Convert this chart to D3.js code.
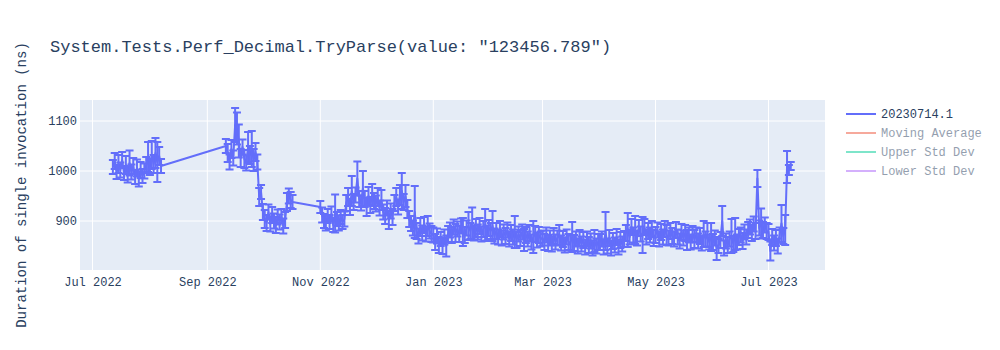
<!DOCTYPE html>
<html>
<head>
<meta charset="utf-8">
<script src="https://cdn.jsdelivr.net/npm/d3@7"></script>
<style>
  body { margin: 0; background: #fff; }
  text { font-family: "Liberation Mono", "Courier New", monospace; fill: #2a3f5f; }
</style>
</head>
<body>
<div id="chart"></div>
<script>
// Valores (ns), un punto por dia a partir de la fecha de inicio de cada bloque
const julAug22 = [1008,1020,998,1014,1002,1022,996,1012,992,1016,998,1010,988,1006,984,1002,990,1000,1012,1028,1008,1032,1014,1036,1018,1030,1010];
const julAug22Err = [14,16,14,18,15,16,14,18,15,25,15,16,14,17,15,16,14,15,16,30,16,28,18,30,40,18,14];
const sep22 = [1050,1036,1018,1044,1026,1092,1085,1060,1026,1048,1024,1016,1048,1032,1044,1022,1038,1018];
const sep22Err = [14,18,15,18,15,34,32,33,18,15,18,15,30,18,36,22,18,15];
const oct22 = [948,958,918,904,896,918,894,912,900,892,908,898,910,890,902,938,950,942,938];
const oct22Err = [18,14,16,18,16,15,15,16,15,16,15,15,14,15,16,18,15,16,14];
const nov22 = [928,912,900,896,910,898,914,892,915,904,896,908,898,904,936,948,928,960,938,952,985,944,936,965,944,928,950,932,952,940];
const nov22Err = [12,15,14,15,14,14,15,14,38,14,15,14,14,15,16,18,16,30,16,15,34,16,15,35,16,18,18,16,22,16];
const dec22 = [935,948,926,942,918,910,926,902,920,908,936,948,928,952,960,938,950,924,904,895,886,918,880,870,888,876,892,874,890,880,874];
const dec22Err = [16,18,15,20,15,16,15,18,15,16,16,18,15,20,36,16,22,18,16,15,15,52,16,15,18,15,16,15,20,15,16];
const jan23 = [872,858,870,852,864,850,868,850,874,882,872,888,876,884,874,890,878,872,886,890,880,895,876,886,878,890,874,884,892,876,886];
const jan23Err = [15,16,15,16,14,16,15,21,16,15,16,15,18,15,16,15,28,16,15,28,16,32,15,18,15,16,15,16,32,15,16];
const feb23 = [880,890,870,880,868,884,866,878,870,882,864,876,868,878,862,874,866,878,862,872,864,876,858,868,874,862,872,864];
const feb23Err = [16,30,15,16,15,16,15,15,16,15,15,16,15,32,16,15,16,15,22,16,15,16,15,32,16,15,16,15];
const mar23 = [866,858,872,856,866,854,870,858,866,872,856,864,852,868,858,856,868,856,864,850,866,854,862,848,864,852,860,846,860,850,858];
const mar23Err = [15,16,15,16,15,15,16,15,15,20,15,16,15,15,16,15,30,16,15,15,16,15,16,15,15,16,15,15,22,15,16];
const apr23 = [858,864,848,880,850,866,846,860,852,868,848,862,854,864,876,882,868,888,872,882,866,886,874,872,888,868,880,872,884,866];
const apr23Err = [16,15,15,38,15,16,15,16,15,16,15,16,15,16,16,34,15,16,15,28,15,16,15,36,16,15,16,15,16,16];
const may23 = [872,882,864,878,868,884,872,866,880,870,864,882,868,860,878,866,876,862,872,858,874,864,872,860,870,856,874,864,872,858,868];
const may23Err = [16,15,15,16,15,16,20,15,16,16,15,16,15,15,16,15,16,20,15,15,16,18,15,15,16,15,26,15,24,15,28];
const jun23 = [858,866,845,850,862,900,846,860,852,864,870,854,874,858,868,872,860,878,868,882,888,876,894,880,985,886,895,882,892,880];
const jun23Err = [16,15,23,14,16,30,15,15,16,15,34,16,32,15,16,15,16,15,15,16,15,16,15,16,17,15,30,16,15,16];
const jul23 = [878,840,868,856,866,850,872,895,870,882,1008,1002,1010];
const jul23Err = [16,19,16,15,16,15,15,37,16,30,32,10,8];

const blockStarts = ["2022-07-12","2022-09-11","2022-09-29","2022-11-01","2022-12-01","2023-01-01",
                     "2023-02-01","2023-03-01","2023-04-01","2023-05-01","2023-06-01","2023-07-01"];
const blockValues = [julAug22, sep22, oct22, nov22, dec22, jan23, feb23, mar23, apr23, may23, jun23, jul23];
const blockErrs = [julAug22Err, sep22Err, oct22Err, nov22Err, dec22Err, jan23Err, feb23Err, mar23Err, apr23Err, may23Err, jun23Err, jul23Err];

const xTicks = ["2022-07-01","2022-09-01","2022-11-01","2023-01-01","2023-03-01","2023-05-01","2023-07-01"];
const yTicks = [900, 1000, 1100];
const legendNames = ["20230714.1", "Moving Average", "Upper Std Dev", "Lower Std Dev"];
const legendColors = ["#636efa", "#EF553B", "#00cc96", "#ab63fa"];

const titulo = 'System.Tests.Perf_Decimal.TryParse(value: "123456.789")';
const tituloY = "Duration of single invocation (ns)";

// Tabla de puntos
const parseDia = d3.utcParse("%Y-%m-%d");
const puntos = [];
blockStarts.forEach(function (inicio, b) {
    const t0 = parseDia(inicio);
    blockValues[b].forEach(function (v, i) {
        puntos.push({ fecha: d3.utcDay.offset(t0, i), valor: v, err: blockErrs[b][i] });
    });
});

const ancho = 1000, altura = 350;
const margen = { arriba: 100, derecha: 175, abajo: 80, izquierda: 80 };
const anchoPlot = ancho - margen.izquierda - margen.derecha;
const altoPlot = altura - margen.arriba - margen.abajo;

const x = d3.scaleUtc()
    .domain([new Date(Date.UTC(2022, 5, 24, 6)), new Date(Date.UTC(2023, 6, 31, 12))])
    .range([0, anchoPlot]);
const y = d3.scaleLinear()
    .domain([802, 1142])
    .range([altoPlot, 0]);

const svg = d3.select("#chart").append("svg")
    .attr("width", ancho)
    .attr("height", altura);

// Titulo
svg.append("text")
    .attr("x", 50)
    .attr("y", 52)
    .style("font-size", "17px")
    .text(titulo);

const g = svg.append("g")
    .attr("transform", "translate(" + margen.izquierda + "," + margen.arriba + ")");

g.append("rect")
    .attr("width", anchoPlot)
    .attr("height", altoPlot)
    .attr("fill", "#e5ecf6");

// Rejilla
g.selectAll(".gridx")
    .data(xTicks.map(parseDia))
    .enter().append("line")
    .attr("x1", d => x(d)).attr("x2", d => x(d))
    .attr("y1", 0).attr("y2", altoPlot)
    .attr("stroke", "#fff").attr("stroke-width", 1);

g.selectAll(".gridy")
    .data(yTicks)
    .enter().append("line")
    .attr("x1", 0).attr("x2", anchoPlot)
    .attr("y1", d => y(d)).attr("y2", d => y(d))
    .attr("stroke", "#fff").attr("stroke-width", 1);

// Ejes
const ejeX = g.append("g")
    .attr("transform", "translate(0," + altoPlot + ")")
    .call(d3.axisBottom(x).tickValues(xTicks.map(parseDia)).tickFormat(d3.utcFormat("%b %Y")).tickSize(0).tickPadding(7));
ejeX.select(".domain").remove();
ejeX.selectAll("text").style("font-size", "12px").attr("fill", "#2a3f5f");

const ejeY = g.append("g")
    .call(d3.axisLeft(y).tickValues(yTicks).tickFormat(d3.format("d")).tickSize(0).tickPadding(3));
ejeY.select(".domain").remove();
ejeY.selectAll("text").style("font-size", "12px").attr("fill", "#2a3f5f");

svg.append("text")
    .attr("transform", "translate(26," + (margen.arriba + altoPlot / 2) + ") rotate(-90)")
    .attr("text-anchor", "middle")
    .style("font-size", "14px")
    .text(tituloY);

// Serie
g.append("clipPath").attr("id", "recorte")
    .append("rect").attr("width", anchoPlot).attr("height", altoPlot);

const serie = g.append("g").attr("clip-path", "url(#recorte)");

serie.append("path")
    .datum(puntos)
    .attr("fill", "none")
    .attr("stroke", "#636efa")
    .attr("stroke-width", 2)
    .attr("stroke-linejoin", "round")
    .attr("d", d3.line().x(d => x(d.fecha)).y(d => y(d.valor)));

serie.selectAll(".errbar")
    .data(puntos)
    .enter().append("path")
    .attr("class", "errbar")
    .attr("fill", "none")
    .attr("stroke", "#636efa")
    .attr("stroke-width", 2)
    .attr("d", function (d) {
        const cx = x(d.fecha), y0 = y(d.valor + d.err), y1 = y(d.valor - d.err);
        return "M" + cx + "," + y0 + "V" + y1 +
               "M" + (cx - 4) + "," + y0 + "H" + (cx + 4) +
               "M" + (cx - 4) + "," + y1 + "H" + (cx + 4);
    });

// Leyenda
const leyenda = svg.append("g").attr("transform", "translate(846,114)");
const item = leyenda.selectAll("g")
    .data(legendNames)
    .enter().append("g")
    .attr("transform", (d, i) => "translate(0," + i * 19 + ")")
    .style("opacity", (d, i) => i === 0 ? 1 : 0.5);
item.append("line")
    .attr("x1", 0).attr("x2", 30)
    .attr("stroke", (d, i) => legendColors[i])
    .attr("stroke-width", 2);
item.append("text")
    .attr("x", 35)
    .attr("dy", "0.35em")
    .style("font-size", "12px")
    .text(d => d);
</script>
</body>
</html>
